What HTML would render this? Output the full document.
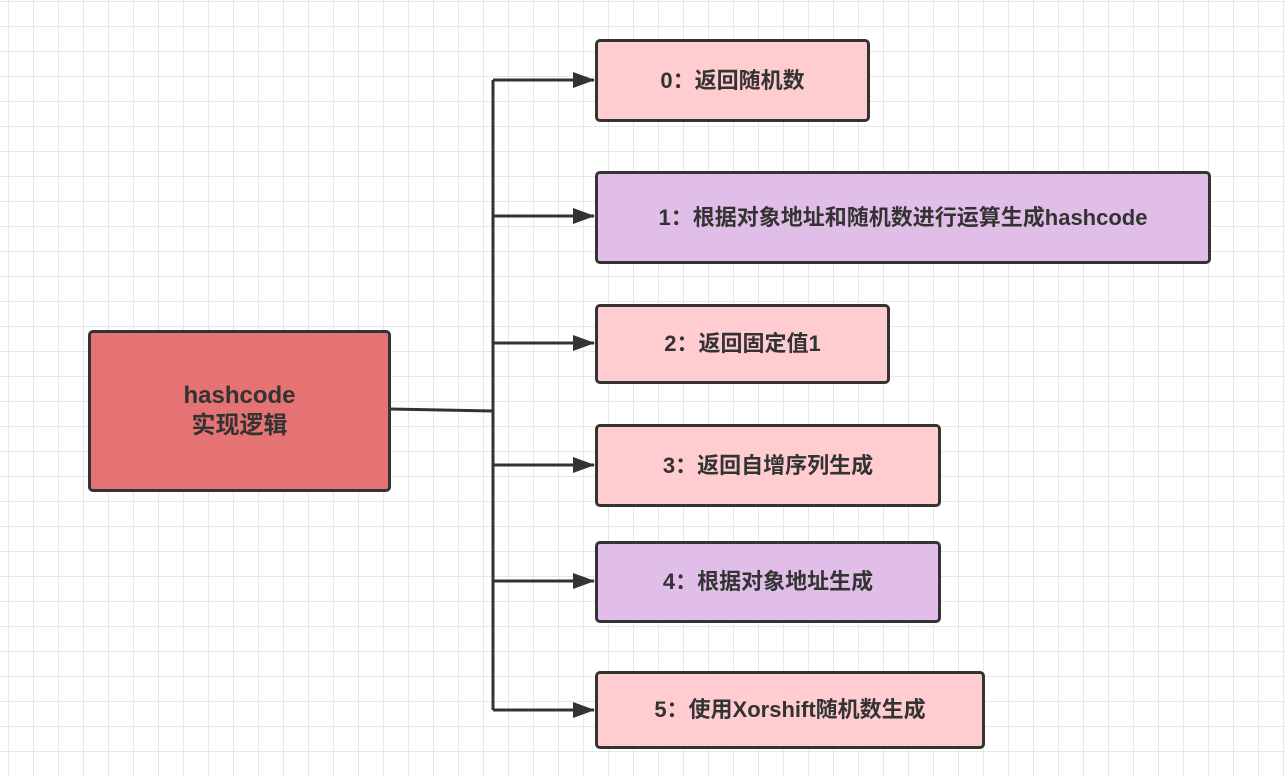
<!DOCTYPE html>
<html><head><meta charset="utf-8"><style>
body{margin:0;width:1285px;height:776px;overflow:hidden;background:#fff;
background-image:linear-gradient(#e8e8e8 1px,transparent 1px),linear-gradient(90deg,#e8e8e8 1px,transparent 1px);
background-size:25px 25px;background-position:8px 1px;font-family:"Liberation Sans","Noto Sans CJK SC",sans-serif;position:relative}
.b{position:absolute;box-sizing:border-box;border:3px solid #333;border-radius:5px;display:flex;align-items:center;justify-content:center;font-weight:bold;font-size:22px;color:#333;text-align:center;line-height:1.25}
.p{background:#ffccd0}.v{background:#e1bee7}
</style></head><body>
<svg width="1285" height="776" style="position:absolute;left:0;top:0">
<defs><marker id="a" markerWidth="22" markerHeight="16" refX="21" refY="8" orient="auto" markerUnits="userSpaceOnUse"><path d="M0,0L22,8L0,16z" fill="#333"/></marker></defs>
<g stroke="#333" stroke-width="3" fill="none">
<path d="M390,409L493,411"/>
<path d="M493,80V710"/>
<path d="M493,80H594" marker-end="url(#a)"/>
<path d="M493,216H594" marker-end="url(#a)"/>
<path d="M493,343H594" marker-end="url(#a)"/>
<path d="M493,465H594" marker-end="url(#a)"/>
<path d="M493,581H594" marker-end="url(#a)"/>
<path d="M493,710H594" marker-end="url(#a)"/>
</g></svg>
<div class="b" style="left:88px;top:330px;width:303px;height:162px;background:#e57373;font-size:24px">hashcode<br>实现逻辑</div>
<div class="b p" style="left:595px;top:39px;width:275px;height:83px">0：返回随机数</div>
<div class="b v" style="left:595px;top:171px;width:616px;height:93px">1：根据对象地址和随机数进行运算生成hashcode</div>
<div class="b p" style="left:595px;top:304px;width:295px;height:80px">2：返回固定值1</div>
<div class="b p" style="left:595px;top:424px;width:346px;height:83px">3：返回自增序列生成</div>
<div class="b v" style="left:595px;top:541px;width:346px;height:82px">4：根据对象地址生成</div>
<div class="b p" style="left:595px;top:671px;width:390px;height:78px">5：使用Xorshift随机数生成</div>
</body></html>
